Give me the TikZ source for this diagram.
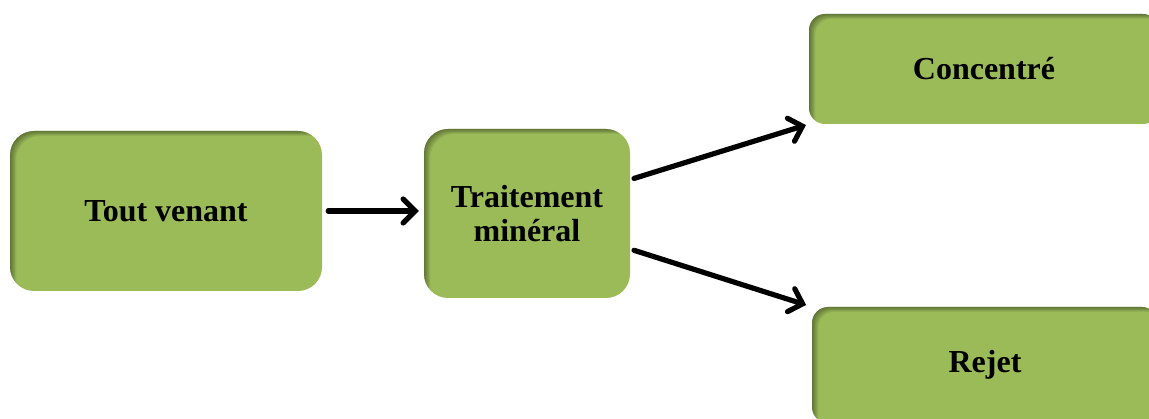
\documentclass[tikz,border=0pt]{standalone}
\usepackage{fontspec}
\setmainfont{Liberation Serif}
\usetikzlibrary{arrows.meta,calc}
\definecolor{boxgreen}{HTML}{9BBB59}
\begin{document}
\begin{tikzpicture}[x=1pt,y=-1pt,
  % soft inner shadow along the top and left edges of a box
  innershade/.style={path picture={
    \foreach \s in {1,...,7}{
      \fill[black,opacity=0.06,even odd rule]
        ($(path picture bounding box.north west)+(-30,-30)$) rectangle
        ($(path picture bounding box.south east)+(30,30)$)
        [rounded corners=#1]
        ($(path picture bounding box.north west)+(\s*0.9,\s*0.7)$) rectangle
        ($(path picture bounding box.south east)+(\s*0.9+40,\s*0.7+40)$);
    }}},
  stepbox/.style={fill=boxgreen,draw=none,rounded corners=#1,innershade=#1,
    inner sep=0pt,align=center,
    font=\fontsize{32}{34}\selectfont\bfseries},
  arr/.style={line width=5.2pt,line cap=round,
    -{Straight Barb[length=12pt,width=24pt,line cap=round]}}
]
\useasboundingbox (0,0) rectangle (1149,419);
\begin{scope}
\clip (0,0) rectangle (1149,419);
\node[stepbox=24pt,minimum width=312pt,minimum height=160pt] (tv) at (166,211) {Tout venant};
\node[stepbox=24pt,minimum width=206pt,minimum height=169pt] (tm) at (527,213.5) {Traitement\\min\'eral};
\node[stepbox=16pt,minimum width=350pt,minimum height=110pt] (cc) at (984,69) {Concentr\'e};
\node[stepbox=16pt,minimum width=346pt,minimum height=116pt] (rj) at (985,365) {Rejet};
\end{scope}
\draw[arr,shorten <=6pt,shorten >=5pt] (tv.east) -- (tv.east -| tm.west);
\draw[arr,shorten <=4pt,shorten >=3pt] ($(tm.north east)!0.30!(tm.south east)$) -- (cc.south west);
\draw[arr,shorten <=4pt,shorten >=6pt] ($(tm.north east)!0.71!(tm.south east)$) -- (rj.north west);
\end{tikzpicture}
\end{document}
